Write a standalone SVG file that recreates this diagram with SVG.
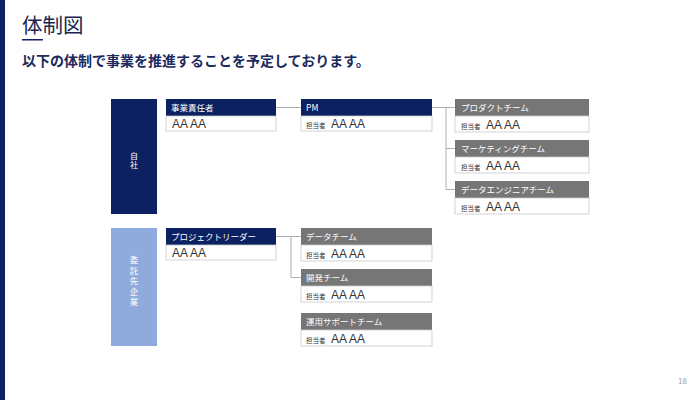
<svg xmlns="http://www.w3.org/2000/svg" width="700" height="400" viewBox="0 0 700 400">
<style>
text{font-family:"Noto Sans CJK JP","Noto Sans",sans-serif}
.navy{fill:#0b2161}
.gray{fill:#767676}
.body{fill:#fff;stroke:#c8c8c8;stroke-width:0.8}
.ht{fill:#fff;font-size:8.5px}
.bt{fill:#333;font-size:12px;font-family:"Liberation Sans",Arial,sans-serif}
.sm{fill:#333;font-size:6.5px}
.conn{stroke:#9a9a9a;stroke-width:0.8;fill:none}
.vt{fill:#fff;text-anchor:middle;writing-mode:vertical-rl}
</style>
<rect width="700" height="400" fill="#fff"/>
<rect x="0" y="0" width="5" height="400" class="navy"/>
<text x="22" y="33" font-size="20.5" fill="#1a2550">体制図</text>
<rect x="22" y="39" width="21" height="1.5" class="navy"/>
<text x="22" y="66" font-size="14" font-weight="bold" fill="#1a2a5e">以下の体制で事業を推進することを予定しております。</text>
<text x="687" y="384" font-size="8" fill="#a0a0a0" text-anchor="end">18</text>

<g id="connectors">
<path class="conn" d="M276 107.5H301"/>
<path class="conn" d="M432 107.5H455M446 107.5V189.5H455M446 148.5H455"/>
<path class="conn" d="M276 236.5H301M291 236.5V277.5H301"/>
</g>

<g id="jisha">
<rect x="111" y="99" width="46" height="115" class="navy"/>
<text class="vt" x="134" y="161" font-size="8" letter-spacing="1.5">自社</text>
</g>
<g id="itaku">
<rect x="111" y="228" width="46" height="118" fill="#8faadc"/>
<text class="vt" x="134" y="282" font-size="8.5" letter-spacing="2">委託先企業</text>
</g>

<g id="jigyo">
<rect x="166" y="99" width="110" height="17" class="navy"/>
<rect x="166" y="116" width="110" height="15" class="body"/>
<text class="ht" x="171" y="111">事業責任者</text>
<text class="bt" x="172" y="128">AA AA</text>
</g>
<g id="pm">
<rect x="301" y="99" width="131" height="17" class="navy"/>
<rect x="301" y="116" width="131" height="15" class="body"/>
<text class="ht" x="306" y="111" font-size="9.5">PM</text>
<text class="sm" x="306" y="128">担当者</text>
<text class="bt" x="331" y="128">AA AA</text>
</g>
<g id="product">
<rect x="455" y="99" width="134" height="17" class="gray"/>
<rect x="455" y="116" width="134" height="16" class="body"/>
<text class="ht" x="461" y="111">プロダクトチーム</text>
<text class="sm" x="461" y="129">担当者</text>
<text class="bt" x="486" y="129">AA AA</text>
</g>
<g id="marketing">
<rect x="455" y="140" width="134" height="17" class="gray"/>
<rect x="455" y="157" width="134" height="16" class="body"/>
<text class="ht" x="461" y="152">マーケティングチーム</text>
<text class="sm" x="461" y="170">担当者</text>
<text class="bt" x="486" y="170">AA AA</text>
</g>
<g id="dataeng">
<rect x="455" y="181" width="134" height="17" class="gray"/>
<rect x="455" y="198" width="134" height="16" class="body"/>
<text class="ht" x="461" y="193">データエンジニアチーム</text>
<text class="sm" x="461" y="211">担当者</text>
<text class="bt" x="486" y="211">AA AA</text>
</g>

<g id="pl">
<rect x="166" y="228" width="110" height="17" class="navy"/>
<rect x="166" y="245" width="110" height="15" class="body"/>
<text class="ht" x="171" y="240">プロジェクトリーダー</text>
<text class="bt" x="172" y="257">AA AA</text>
</g>
<g id="datateam">
<rect x="301" y="228" width="131" height="17" class="gray"/>
<rect x="301" y="245" width="131" height="16" class="body"/>
<text class="ht" x="306" y="240">データチーム</text>
<text class="sm" x="306" y="258">担当者</text>
<text class="bt" x="331" y="258">AA AA</text>
</g>
<g id="dev">
<rect x="301" y="269" width="131" height="17" class="gray"/>
<rect x="301" y="286" width="131" height="16" class="body"/>
<text class="ht" x="306" y="281">開発チーム</text>
<text class="sm" x="306" y="299">担当者</text>
<text class="bt" x="331" y="299">AA AA</text>
</g>
<g id="support">
<rect x="301" y="313" width="131" height="17" class="gray"/>
<rect x="301" y="330" width="131" height="16" class="body"/>
<text class="ht" x="306" y="325">運用サポートチーム</text>
<text class="sm" x="306" y="343">担当者</text>
<text class="bt" x="331" y="343">AA AA</text>
</g>
</svg>
